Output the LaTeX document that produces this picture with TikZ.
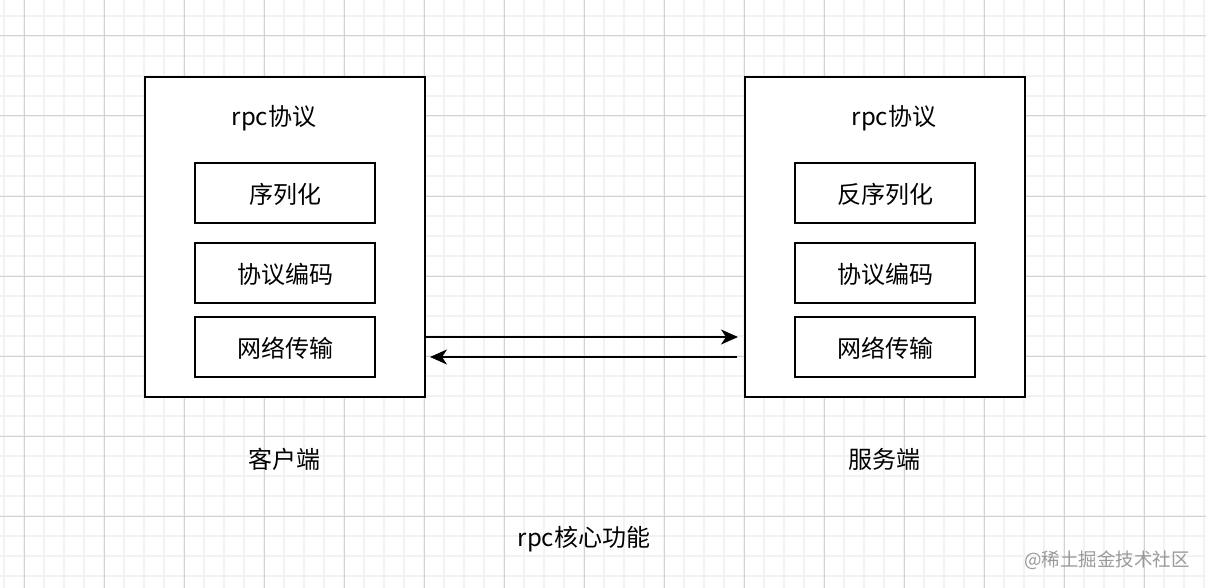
\documentclass[tikz,border=0pt]{standalone}
\usepackage{fontspec}
\setmainfont{Noto Sans CJK SC}
\usetikzlibrary{arrows.meta}
\definecolor{gridminor}{HTML}{F2F2F2}
\definecolor{gridmajor}{HTML}{D2D2D2}
\definecolor{wmgray}{HTML}{9A9A9A}
\tikzset{
  outerbox/.style={draw=black, line width=2pt, minimum width=280pt, minimum height=320pt, inner sep=0pt, outer sep=0pt},
  innerbox/.style={draw=black, line width=2pt, minimum width=180pt, minimum height=60pt, inner sep=0pt, outer sep=0pt},
  boxtext/.style={inner sep=0pt, font=\fontsize{24pt}{28pt}\selectfont},
  label/.style={inner sep=0pt, font=\fontsize{24pt}{28pt}\selectfont},
  flow/.style={line width=2pt, -{Stealth[length=17pt,width=15pt,inset=5pt]}},
}
\begin{document}
\begin{tikzpicture}[x=1pt,y=-1pt]
\useasboundingbox (0,0) rectangle (1206,588);
\fill[white] (0,0) rectangle (1206,588);
% minor grid
\foreach \gx in {4,24,...,1204} \draw[gridminor, line width=1.4pt] (\gx,0) -- (\gx,588);
\foreach \gy in {16,36,...,586} \draw[gridminor, line width=1.4pt] (0,\gy) -- (1206,\gy);
% major grid
\foreach \gx in {24,104,...,1204} \draw[gridmajor, line width=1pt] (\gx,0) -- (\gx,588);
\foreach \gy in {36,116,...,586} \draw[gridmajor, line width=1pt] (0,\gy) -- (1206,\gy);

% client
\node[outerbox, fill=white] (lbox) at (285,237) {};
\node[label] (ltitle) at (274,118.5) {rpc协议};
\node[innerbox] (l1) at (285,192.7) {};
\node[innerbox] (l2) at (285,272.7) {};
\node[innerbox] (l3) at (285,346.7) {};
\node[boxtext] (l1t) at ([yshift=-1.5pt]l1.center) {序列化};
\node[boxtext] (l2t) at ([yshift=-1.5pt]l2.center) {协议编码};
\node[boxtext] (l3t) at ([yshift=-1.5pt]l3.center) {网络传输};
\node[label] (lname) at (284,459.5) {客户端};

% server
\node[outerbox, fill=white] (rbox) at (885,237) {};
\node[label] (rtitle) at (894,118.5) {rpc协议};
\node[innerbox] (r1) at (885,192.7) {};
\node[innerbox] (r2) at (885,272.7) {};
\node[innerbox] (r3) at (885,346.7) {};
\node[boxtext] (r1t) at ([yshift=-1.5pt]r1.center) {反序列化};
\node[boxtext] (r2t) at ([yshift=-1.5pt]r2.center) {协议编码};
\node[boxtext] (r3t) at ([yshift=-1.5pt]r3.center) {网络传输};
\node[label] (rname) at (884,459.5) {服务端};

% arrows
\coordinate (a1s) at ([yshift=-100pt]lbox.east);
\coordinate (a1e) at ([yshift=-100pt,xshift=-7pt]rbox.west);
\coordinate (a2s) at ([yshift=-120pt,xshift=-8pt]rbox.west);
\coordinate (a2e) at ([yshift=-120pt,xshift=5pt]lbox.east);
\draw[flow] (a1s) -- (a1e);
\draw[flow] (a2s) -- (a2e);

\node[label] (caption) at (584,539.5) {rpc核心功能};
\node[inner sep=0pt, text=wmgray, font=\fontsize{18.5pt}{22pt}\selectfont] (wm) at (1107,560) {@稀土掘金技术社区};
\end{tikzpicture}
\end{document}
